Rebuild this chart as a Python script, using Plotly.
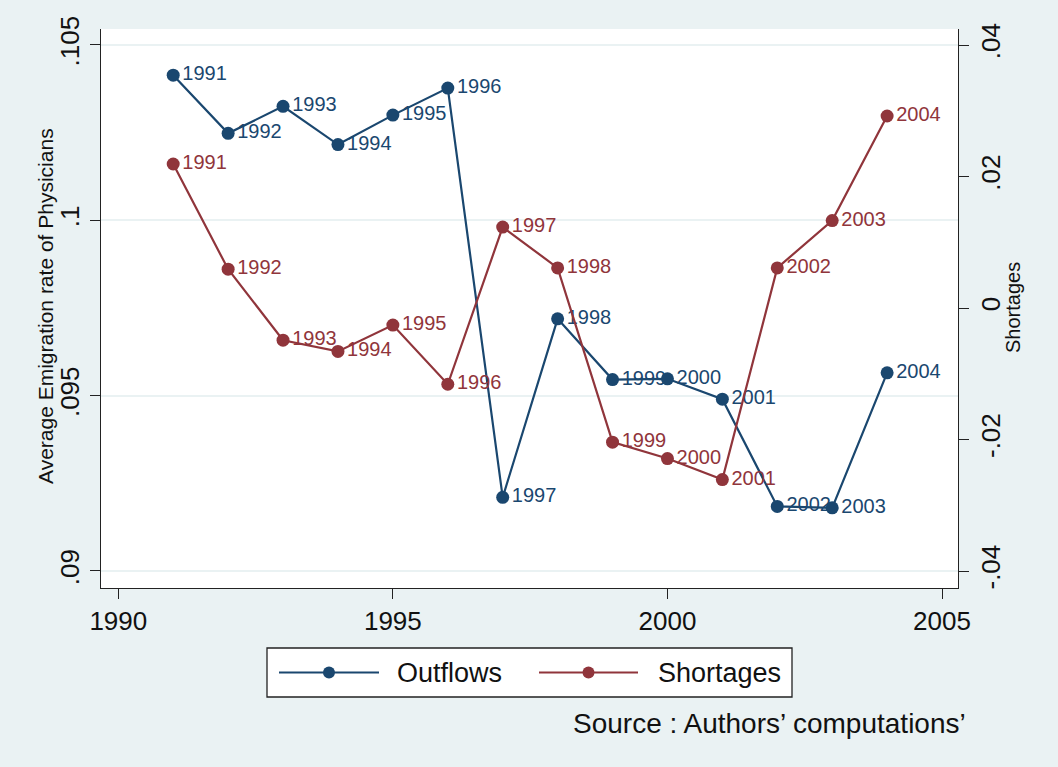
import plotly.graph_objects as go

# ---- data ----
years = [1991, 1992, 1993, 1994, 1995, 1996, 1997, 1998, 1999, 2000, 2001, 2002, 2003, 2004]
outflows = [0.10414, 0.10248, 0.10325, 0.10216, 0.10300, 0.10377, 0.09210,
            0.09719, 0.09546, 0.09548, 0.09490, 0.09184, 0.09180, 0.09565]
shortages = [0.0219, 0.0059, -0.0049, -0.0066, -0.0026, -0.0116, 0.0123,
             0.0061, -0.0204, -0.0229, -0.0261, 0.0061, 0.0133, 0.0292]
point_labels = [str(y) for y in years]

x_ticks = [1990, 1995, 2000, 2005]
left_ticks = [0.09, 0.095, 0.1, 0.105]
left_tick_text = [".09", ".095", ".1", ".105"]
right_ticks = [-0.04, -0.02, 0, 0.02, 0.04]
right_tick_text = ["-.04", "-.02", "0", ".02", ".04"]

NAVY = "#1a476f"
MAROON = "#90353b"
BG = "#eaf2f3"
FONT = "Liberation Sans, Arial, sans-serif"

W, H = 1058, 767
L, R, T, B = 101, 100, 29, 179


def px(x):
    return (x - L) / (W - L - R)


def py(y):
    return (H - B - y) / (H - T - B)


fig = go.Figure()

fig.add_trace(go.Scatter(
    x=years, y=outflows, name="Outflows", yaxis="y",
    mode="lines+markers+text", text=point_labels, textposition="middle right",
    textfont=dict(family=FONT, size=20, color=NAVY),
    line=dict(color=NAVY, width=2.2),
    marker=dict(color=NAVY, size=13),
    showlegend=False, cliponaxis=False,
))
fig.add_trace(go.Scatter(
    x=years, y=shortages, name="Shortages", yaxis="y2",
    mode="lines+markers+text", text=point_labels, textposition="middle right",
    textfont=dict(family=FONT, size=20, color=MAROON),
    line=dict(color=MAROON, width=2.2),
    marker=dict(color=MAROON, size=13),
    showlegend=False, cliponaxis=False,
))

axis_common = dict(
    showline=True, linecolor="#222", linewidth=1.3,
    ticks="outside", ticklen=10, tickwidth=1.3, tickcolor="#222",
    tickfont=dict(family=FONT, size=26, color="#111"),
    zeroline=False,
)

fig.update_layout(
    width=W, height=H,
    margin=dict(l=L, r=R, t=T, b=B, pad=0),
    paper_bgcolor=BG, plot_bgcolor="white",
    font=dict(family=FONT, color="#111"),
    xaxis=dict(range=[1989.685, 2005.291], tickvals=x_ticks,
               ticktext=[str(v) for v in x_ticks], showgrid=False,
               **axis_common),
    yaxis=dict(range=[0.089515, 0.105456], tickvals=left_ticks,
               ticktext=left_tick_text, tickangle=-90,
               showgrid=True, gridcolor=BG, gridwidth=2, **axis_common),
    yaxis2=dict(range=[-0.042586, 0.042433], tickvals=right_ticks,
                ticktext=right_tick_text, tickangle=-90, overlaying="y",
                side="right", showgrid=False, **axis_common),
)

shapes = []
annotations = []

# axis titles
annotations.append(dict(
    x=px(45), y=py(306), xref="paper", yref="paper", showarrow=False,
    text="Average Emigration rate of Physicians", textangle=-90,
    font=dict(family=FONT, size=21, color="#111"),
    xanchor="center", yanchor="middle"))
annotations.append(dict(
    x=px(1013), y=py(308), xref="paper", yref="paper", showarrow=False,
    text="Shortages", textangle=-90,
    font=dict(family=FONT, size=20, color="#111"),
    xanchor="center", yanchor="middle"))

# legend box
shapes.append(dict(type="rect", xref="paper", yref="paper",
                   x0=px(267), x1=px(792), y0=py(697), y1=py(648),
                   line=dict(color="#222", width=1.3), fillcolor="white"))
legend_items = [("Outflows", NAVY, 279, 379, 395), ("Shortages", MAROON, 539, 638, 656)]
ly = 672.5
for name, color, x0, x1, tx in legend_items:
    shapes.append(dict(type="line", xref="paper", yref="paper",
                       x0=px(x0), x1=px(x1), y0=py(ly), y1=py(ly),
                       line=dict(color=color, width=2.2)))
    cx = (x0 + x1) / 2
    shapes.append(dict(type="circle", xref="paper", yref="paper",
                       x0=px(cx - 6), x1=px(cx + 6), y0=py(ly + 6), y1=py(ly - 6),
                       line=dict(color=color, width=0), fillcolor=color))
    annotations.append(dict(
        x=px(tx), y=py(ly), xref="paper", yref="paper", showarrow=False,
        text=name, xanchor="left", yanchor="middle",
        font=dict(family=FONT, size=27, color="#111")))

# source note
annotations.append(dict(
    x=px(968), y=py(723), xref="paper", yref="paper", showarrow=False,
    text="Source : Authors\u2019 computations\u2019", xanchor="right", yanchor="middle",
    font=dict(family=FONT, size=28, color="#111")))

fig.update_layout(shapes=shapes, annotations=annotations)

fig.write_html("out.html")
